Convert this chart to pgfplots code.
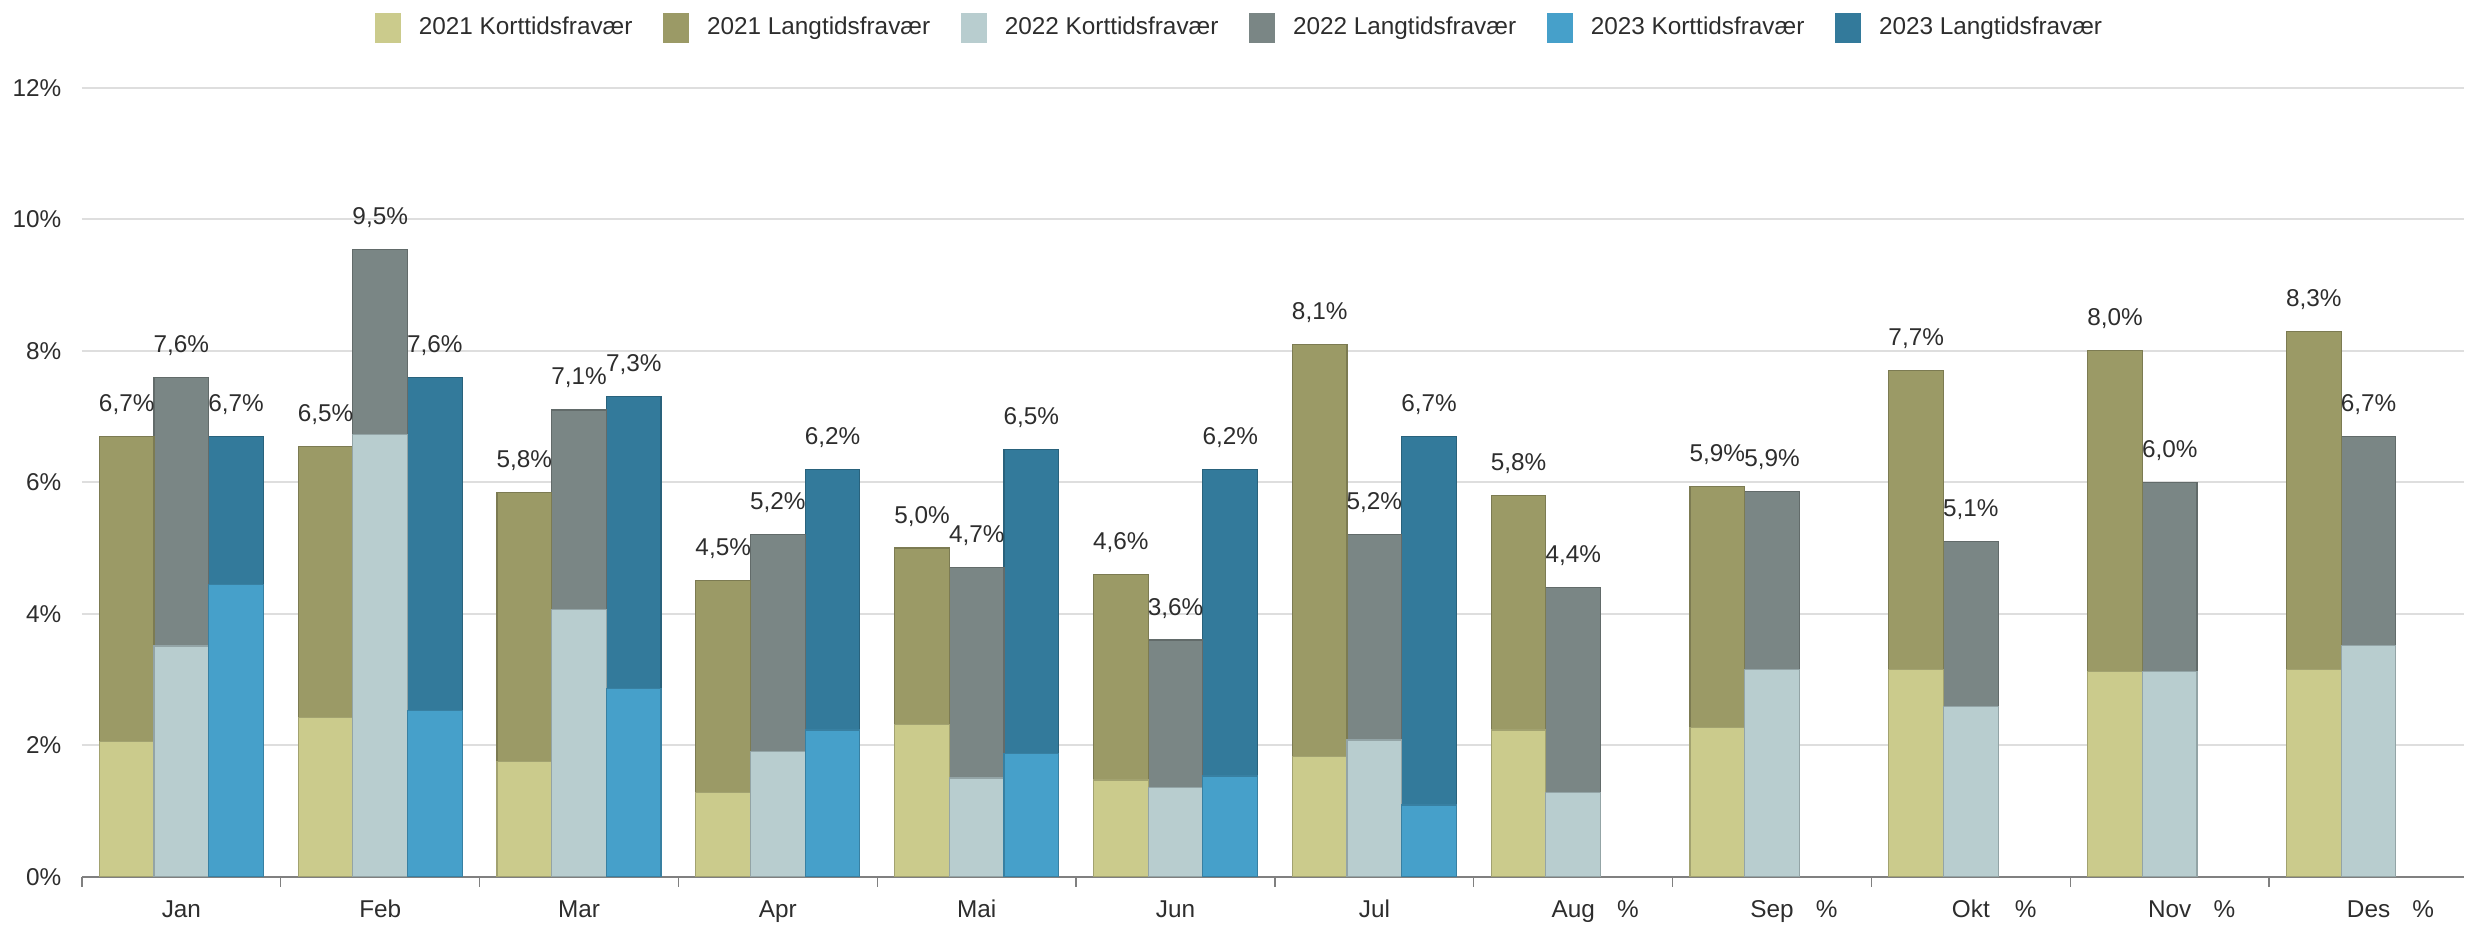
\documentclass[border=0pt]{standalone}
\usepackage{fontspec}
\setmainfont{Liberation Sans}
\usepackage{pgfplots}
\pgfplotsset{compat=1.18}
\definecolor{ka}{RGB}{203,203,140}
\definecolor{la}{RGB}{155,154,102}
\definecolor{kb}{RGB}{184,205,207}
\definecolor{lb}{RGB}{122,134,133}
\definecolor{kc}{RGB}{70,160,202}
\definecolor{lc}{RGB}{51,122,155}
\definecolor{txt}{RGB}{45,45,45}
\newcommand{\lbl}{\fontsize{7.3}{8.5}\selectfont}
\pgfplotsset{
  lab/.style={nodes near coords={\pgfmathprintnumber[fixed,fixed zerofill,precision=1,use comma]{\pgfplotspointmeta}\%},
    every node near coord/.append style={font=\lbl, text=txt, inner sep=0pt, yshift=6.4pt}},
  barbase/.style={ybar, bar width=0.275, bar shift=0, line width=0.35pt, forget plot},
  sw/.style={legend image code/.code={\fill[##1, draw=none] (0pt,-4.5pt) rectangle (7.8pt,4.5pt);}}
}
\begin{document}
\begin{tikzpicture}
\begin{axis}[
  scale only axis, width=714.9pt, height=236.7pt,
  xmin=-0.5, xmax=11.48, ymin=0, ymax=12,
  axis x line*=bottom, axis y line*=left,
  y axis line style={draw=none},
  x axis line style={-, draw=black!50, line width=0.6pt},
  ytick={0,2,...,12},
  yticklabel={\pgfmathprintnumber{\tick}\%},
  ymajorgrids, grid style={draw=black!13, line width=0.6pt},
  major tick length=0pt,
  xtick={0,...,11},
  xticklabels={Jan,Feb,Mar,Apr,Mai,Jun,Jul,Aug,Sep,Okt,Nov,Des},
  minor xtick={-0.5,0.5,...,10.5},
  minor x tick style={draw=black!50, line width=0.4pt},
  minor tick length=3pt,
  tick align=outside,
  extra x ticks={7.275,8.275,9.275,10.275,11.275},
  extra x tick labels={\%,\%,\%,\%,\%},
  extra x tick style={major tick length=0pt},
  tick label style={font=\lbl, text=txt},
  xticklabel style={anchor=base, inner sep=0pt, outer sep=0pt, yshift=-12.4pt},
  yticklabel style={xshift=-2.7pt},
  /pgf/number format/assume math mode=true,
  legend style={at={(0.487,1.076)}, anchor=center, draw=none, fill=none, font=\lbl, text=txt,
    /tikz/every odd column/.append style={column sep=3.3pt},
    /tikz/every even column/.append style={column sep=7.3pt}},
  legend columns=6, legend cell align=left,
]
\coordinate (SW) at (rel axis cs:0,0);
\coordinate (NE) at (rel axis cs:1,1);
\addlegendimage{sw, fill=ka}\addlegendentry{2021 Korttidsfravær}
\addlegendimage{sw, fill=la}\addlegendentry{2021 Langtidsfravær}
\addlegendimage{sw, fill=kb}\addlegendentry{2022 Korttidsfravær}
\addlegendimage{sw, fill=lb}\addlegendentry{2022 Langtidsfravær}
\addlegendimage{sw, fill=kc}\addlegendentry{2023 Korttidsfravær}
\addlegendimage{sw, fill=lc}\addlegendentry{2023 Langtidsfravær}
% Month m is centred at x = m; 2021 bars at m-0.275, 2022 at m, 2023 at m+0.275.
% Totals (Korttid + Langtid), 2023
\addplot[barbase, fill=lc, draw=lc!80!black, lab] coordinates {
 (0.275,6.7) (1.275,7.6) (2.275,7.3) (3.275,6.2) (4.275,6.5) (5.275,6.2) (6.275,6.7)};
% Totals 2022
\addplot[barbase, fill=lb, draw=lb!80!black, lab] coordinates {
 (0,7.6) (1,9.54) (2,7.1) (3,5.2) (4,4.7) (5,3.6) (6,5.2) (7,4.4) (8,5.86) (9,5.1) (10,6.0) (11,6.7)};
% Totals 2021
\addplot[barbase, fill=la, draw=la!80!black, lab] coordinates {
 (-0.275,6.7) (0.725,6.54) (1.725,5.84) (2.725,4.5) (3.725,5.0) (4.725,4.6) (5.725,8.1) (6.725,5.8) (7.725,5.94) (8.725,7.7) (9.725,8.0) (10.725,8.3)};
% Korttidsfravær 2021
\addplot[barbase, fill=ka, draw=ka!80!black] coordinates {
 (-0.275,2.05) (0.725,2.42) (1.725,1.75) (2.725,1.28) (3.725,2.32) (4.725,1.47) (5.725,1.83) (6.725,2.23) (7.725,2.27) (8.725,3.15) (9.725,3.12) (10.725,3.15)};
% Korttidsfravær 2022
\addplot[barbase, fill=kb, draw=kb!80!black] coordinates {
 (0,3.51) (1,6.73) (2,4.06) (3,1.90) (4,1.50) (5,1.35) (6,2.08) (7,1.28) (8,3.15) (9,2.59) (10,3.12) (11,3.52)};
% Korttidsfravær 2023
\addplot[barbase, fill=kc, draw=kc!80!black] coordinates {
 (0.275,4.44) (1.275,2.53) (2.275,2.86) (3.275,2.23) (4.275,1.87) (5.275,1.53) (6.275,1.09)};
\end{axis}
\path (SW) ++(-24.6pt,-15.3pt);
\path (NE) ++(0,26.4pt);
\end{tikzpicture}
\end{document}
